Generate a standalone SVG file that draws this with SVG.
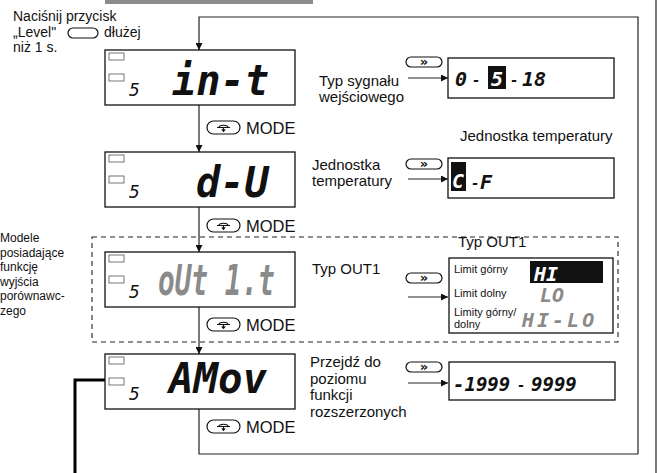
<svg xmlns="http://www.w3.org/2000/svg" xmlns:xlink="http://www.w3.org/1999/xlink" width="657" height="473" viewBox="0 0 657 473">
<style>
.t{font-family:"Liberation Sans",Arial,sans-serif;font-size:15px;fill:#111}
.ti{font-family:"Liberation Sans",Arial,sans-serif;font-size:14px;fill:#111}
.ts{font-family:"Liberation Sans",Arial,sans-serif;font-size:11px;fill:#111}
.tl{font-family:"Liberation Sans",Arial,sans-serif;font-size:12px;fill:#111}
.seg{font-family:"DejaVu Sans Mono",monospace;font-weight:bold;font-style:oblique;fill:#111}
.segn{font-family:"DejaVu Sans Mono",monospace;font-style:oblique;fill:#111}
.segg{font-family:"DejaVu Sans Mono",monospace;font-weight:bold;font-style:oblique;fill:#8a8a8a}
.box{fill:#fff;stroke:#111;stroke-width:1.3}
.sq{fill:#fff;stroke:#555;stroke-width:0.8}
.ln{fill:none;stroke:#222;stroke-width:1.2}
.btn{fill:#fff;stroke:#111;stroke-width:1.2}
.md{font-family:"Liberation Sans",Arial,sans-serif;font-size:16.5px;fill:#111}
</style>
<defs>
<marker id="ah" viewBox="0 0 10 10" refX="10" refY="5" markerWidth="7" markerHeight="7" markerUnits="userSpaceOnUse" orient="auto">
<path d="M0,0 L10,5 L0,10 z" fill="#111"/>
</marker>
<g id="mode">
<rect x="0" y="0" width="33" height="13" rx="6.5" class="btn"/>
<path d="M10,6.5 h13 M12,6.5 c0,-3 9,-3 9,0 M16.5,6.5 v3.5 M14.8,8.4 l1.7,2 l1.7,-2" fill="none" stroke="#111" stroke-width="1.1"/>
</g>
<g id="ff">
<rect x="0" y="0" width="36" height="10" rx="5" class="btn"/>
<text x="18" y="9" text-anchor="middle" style="font-family:'DejaVu Sans',sans-serif;font-size:13px;font-weight:bold;fill:#111">»</text>
</g>
</defs>
<rect x="105" y="0" width="208" height="4" fill="#8c8c8c"/>
<line x1="656" y1="0" x2="656" y2="473" stroke="#222" stroke-width="1.2"/>
<g id="connectors">
<path class="ln" d="M638,454 V17 H199 V50" marker-end="url(#ah)"/>
<path class="ln" d="M199,105 V152" marker-end="url(#ah)"/>
<path class="ln" d="M199,207 V252" marker-end="url(#ah)"/>
<path class="ln" d="M199,307 V354" marker-end="url(#ah)"/>
<path class="ln" d="M199,409 V454 H638"/>
<path class="ln" d="M408,78 H448" marker-end="url(#ah)"/>
<path class="ln" d="M408,179 H448" marker-end="url(#ah)"/>
<path class="ln" d="M408,297 H448" marker-end="url(#ah)"/>
<path class="ln" d="M408,383 H448" marker-end="url(#ah)"/>
<path d="M105,380 H75 V473" fill="none" stroke="#000" stroke-width="3"/>
</g>
<g id="intro">
<text class="ti" x="13" y="21">Naciśnij przycisk</text>
<text class="ti" x="13" y="37">„Level"</text>
<rect x="68" y="28" width="30" height="10" rx="5" class="btn"/>
<text class="ti" x="104" y="37">dłużej</text>
<text class="ti" x="13" y="52">niż 1 s.</text>
</g>
<g id="optional-group">
<rect x="92" y="237" width="526" height="105" fill="none" stroke="#222" stroke-width="1.1" stroke-dasharray="5,4"/>
<text class="tl" x="0" y="242">Modele</text>
<text class="tl" x="0" y="256.5">posiadające</text>
<text class="tl" x="0" y="271">funkcję</text>
<text class="tl" x="0" y="285.5">wyjścia</text>
<text class="tl" x="0" y="300">porównawc-</text>
<text class="tl" x="0" y="314.5">zego</text>
</g>
<g id="node-in-t">
<rect class="box" x="105" y="50" width="190" height="55"/>
<rect class="sq" x="109" y="53" width="15" height="7"/>
<rect class="sq" x="109" y="74" width="15" height="7"/>
<text class="segn" x="129" y="96" font-size="18">5</text>
<text class="seg" transform="translate(172,95) scale(0.96,1)" font-size="42">in-t</text>
<text class="t" x="319" y="86">Typ sygnału</text>
<text class="t" x="319" y="102">wejściowego</text>
<use xlink:href="#mode" x="207" y="121"/>
<text class="md" x="246" y="133.5">MODE</text>
</g>
<g id="node-in-t-values">
<use xlink:href="#ff" x="406" y="57"/>
<rect class="box" x="448" y="58" width="166" height="40"/>
<text class="seg" x="455" y="86" font-size="20">0</text>
<text class="seg" x="472" y="85" font-size="14">-</text>
<rect x="488" y="66" width="18" height="23" fill="#111"/>
<text class="seg" x="491" y="86" font-size="20" style="fill:#fff">5</text>
<text class="seg" x="510" y="85" font-size="14">-</text>
<text class="seg" x="522" y="86" font-size="20">18</text>
</g>
<g id="node-d-u">
<rect class="box" x="105" y="152" width="190" height="55"/>
<rect class="sq" x="109" y="155" width="15" height="7"/>
<rect class="sq" x="109" y="176" width="15" height="7"/>
<text class="segn" x="129" y="198" font-size="18">5</text>
<text class="seg" transform="translate(196,197) scale(0.96,1)" font-size="42">d-U</text>
<text class="t" x="312" y="170">Jednostka</text>
<text class="t" x="312" y="186">temperatury</text>
<use xlink:href="#mode" x="207" y="219"/>
<text class="md" x="246" y="231.5">MODE</text>
</g>
<g id="node-d-u-values">
<text class="t" x="460" y="141" font-size="15.5">Jednostka temperatury</text>
<use xlink:href="#ff" x="406" y="159"/>
<rect class="box" x="448" y="158" width="166" height="40"/>
<rect x="451" y="162" width="15" height="29" fill="#111"/>
<text class="seg" x="452" y="188" font-size="20" style="fill:#fff">C</text>
<text class="seg" x="471" y="188" font-size="14">-</text>
<text class="seg" x="480" y="189" font-size="20">F</text>
</g>
<g id="node-out1t">
<rect class="box" x="105" y="252" width="190" height="55"/>
<rect class="sq" x="109" y="255" width="15" height="7"/>
<rect class="sq" x="109" y="276" width="15" height="7"/>
<text class="segn" x="129" y="298" font-size="18">5</text>
<text class="segg" transform="translate(158,295) scale(0.66,1)" font-size="42">oUt 1.t</text>
<text class="t" x="312" y="274">Typ OUT1</text>
<use xlink:href="#mode" x="207" y="318"/>
<text class="md" x="246" y="330.5">MODE</text>
</g>
<g id="node-out1t-values">
<text class="t" x="458" y="247" font-size="16">Typ OUT1</text>
<use xlink:href="#ff" x="406" y="273"/>
<rect class="box" x="449" y="258" width="164" height="75"/>
<text class="ts" x="454" y="273">Limit górny</text>
<text class="ts" x="454" y="297">Limit dolny</text>
<text class="ts" x="454" y="316">Limity górny/</text>
<text class="ts" x="454" y="328">dolny</text>
<rect x="530" y="261" width="73" height="22" fill="#111"/>
<text class="seg" x="534" y="281" font-size="20" style="fill:#fff">HI</text>
<text class="segg" x="540" y="302" font-size="20">LO</text>
<text class="segg" x="522" y="327" font-size="20" letter-spacing="3">HI-LO</text>
</g>
<g id="node-amov">
<rect class="box" x="105" y="354" width="190" height="55"/>
<rect class="sq" x="109" y="357" width="15" height="7"/>
<rect class="sq" x="109" y="378" width="15" height="7"/>
<text class="segn" x="129" y="400" font-size="18">5</text>
<text class="seg" transform="translate(169,393) scale(0.97,1)" font-size="42">AMov</text>
<text class="t" x="310" y="367">Przejdź do</text>
<text class="t" x="310" y="383.5">poziomu</text>
<text class="t" x="310" y="400">funkcji</text>
<text class="t" x="310" y="416.5">rozszerzonych</text>
<use xlink:href="#mode" x="207" y="420"/>
<text class="md" x="246" y="432.5">MODE</text>
</g>
<g id="node-amov-values">
<use xlink:href="#ff" x="406" y="362"/>
<rect class="box" x="449" y="362" width="166" height="38"/>
<text class="seg" x="453" y="391" font-size="19">-1999</text>
<text class="seg" x="517" y="390" font-size="14">-</text>
<text class="seg" x="531" y="391" font-size="19">9999</text>
</g>
</svg>
